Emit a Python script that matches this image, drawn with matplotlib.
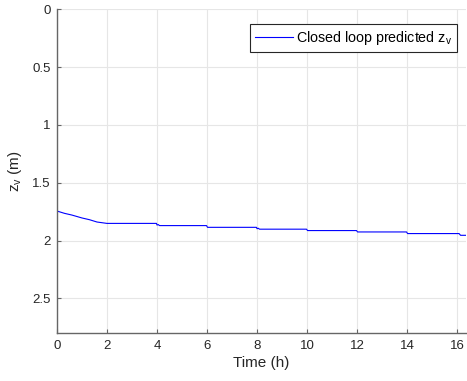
import matplotlib.pyplot as plt

plt.rcParams['font.family'] = ['Liberation Sans', 'DejaVu Sans']
plt.rcParams['mathtext.fontset'] = 'custom'
plt.rcParams['mathtext.rm'] = 'Liberation Sans'

# closed loop predicted zv (m) vs time (h)
time_h = [0.0, 0.3, 0.6, 1.0, 1.3, 1.6, 2.0, 3.98, 4.0, 4.05, 4.1,
          5.98, 6.02, 7.98, 8.0, 8.05, 8.1, 9.98, 10.02, 11.98, 12.02,
          13.98, 14.02, 16.08, 16.14, 16.4]
zv = [1.745, 1.765, 1.78, 1.805, 1.82, 1.84, 1.852, 1.852, 1.866, 1.862, 1.871,
      1.871, 1.886, 1.886, 1.898, 1.894, 1.902, 1.902, 1.914, 1.914, 1.926,
      1.926, 1.94, 1.94, 1.955, 1.955]

xticks = [0, 2, 4, 6, 8, 10, 12, 14, 16]
yticks = [0, 0.5, 1, 1.5, 2, 2.5]
yticklabels = ['0', '0.5', '1', '1.5', '2', '2.5']

fig = plt.figure(figsize=(4.67, 3.81), dpi=100)
ax = fig.add_axes([0.122, 0.126, 0.876, 0.8496])

ax.plot(time_h, zv, color='#0000ff', lw=0.8, label='Closed loop predicted z$_\\mathregular{v}$')

ax.set_xlim(0, 16.36)
ax.set_ylim(2.8, 0)
ax.set_xticks(xticks)
ax.set_yticks(yticks)
ax.set_yticklabels(yticklabels)
ax.grid(True, color='#e6e6e6', lw=0.8)
ax.set_axisbelow(True)

for s in ['top', 'right']:
    ax.spines[s].set_visible(False)
for s in ['left', 'bottom']:
    ax.spines[s].set_color('#666666')
    ax.spines[s].set_linewidth(1.0)
ax.tick_params(direction='in', length=3, colors='#666666', labelsize=9.5, labelcolor='#262626')
ax.tick_params(axis='x', pad=5)
ax.tick_params(axis='y', pad=4.5)

ax.set_xlabel('Time (h)', fontsize=11, color='#262626', labelpad=3)
ax.set_ylabel('z$_\\mathregular{v}$ (m)', fontsize=11, color='#262626', labelpad=6)

leg = ax.legend(loc='upper right', bbox_to_anchor=(0.978, 0.955), borderaxespad=0,
                fontsize=10.3, fancybox=False, framealpha=1, edgecolor='#262626',
                handlelength=2.7, borderpad=0.35, handletextpad=0.2)
leg.get_frame().set_linewidth(0.8)

fig.savefig('out.png', dpi=100)
